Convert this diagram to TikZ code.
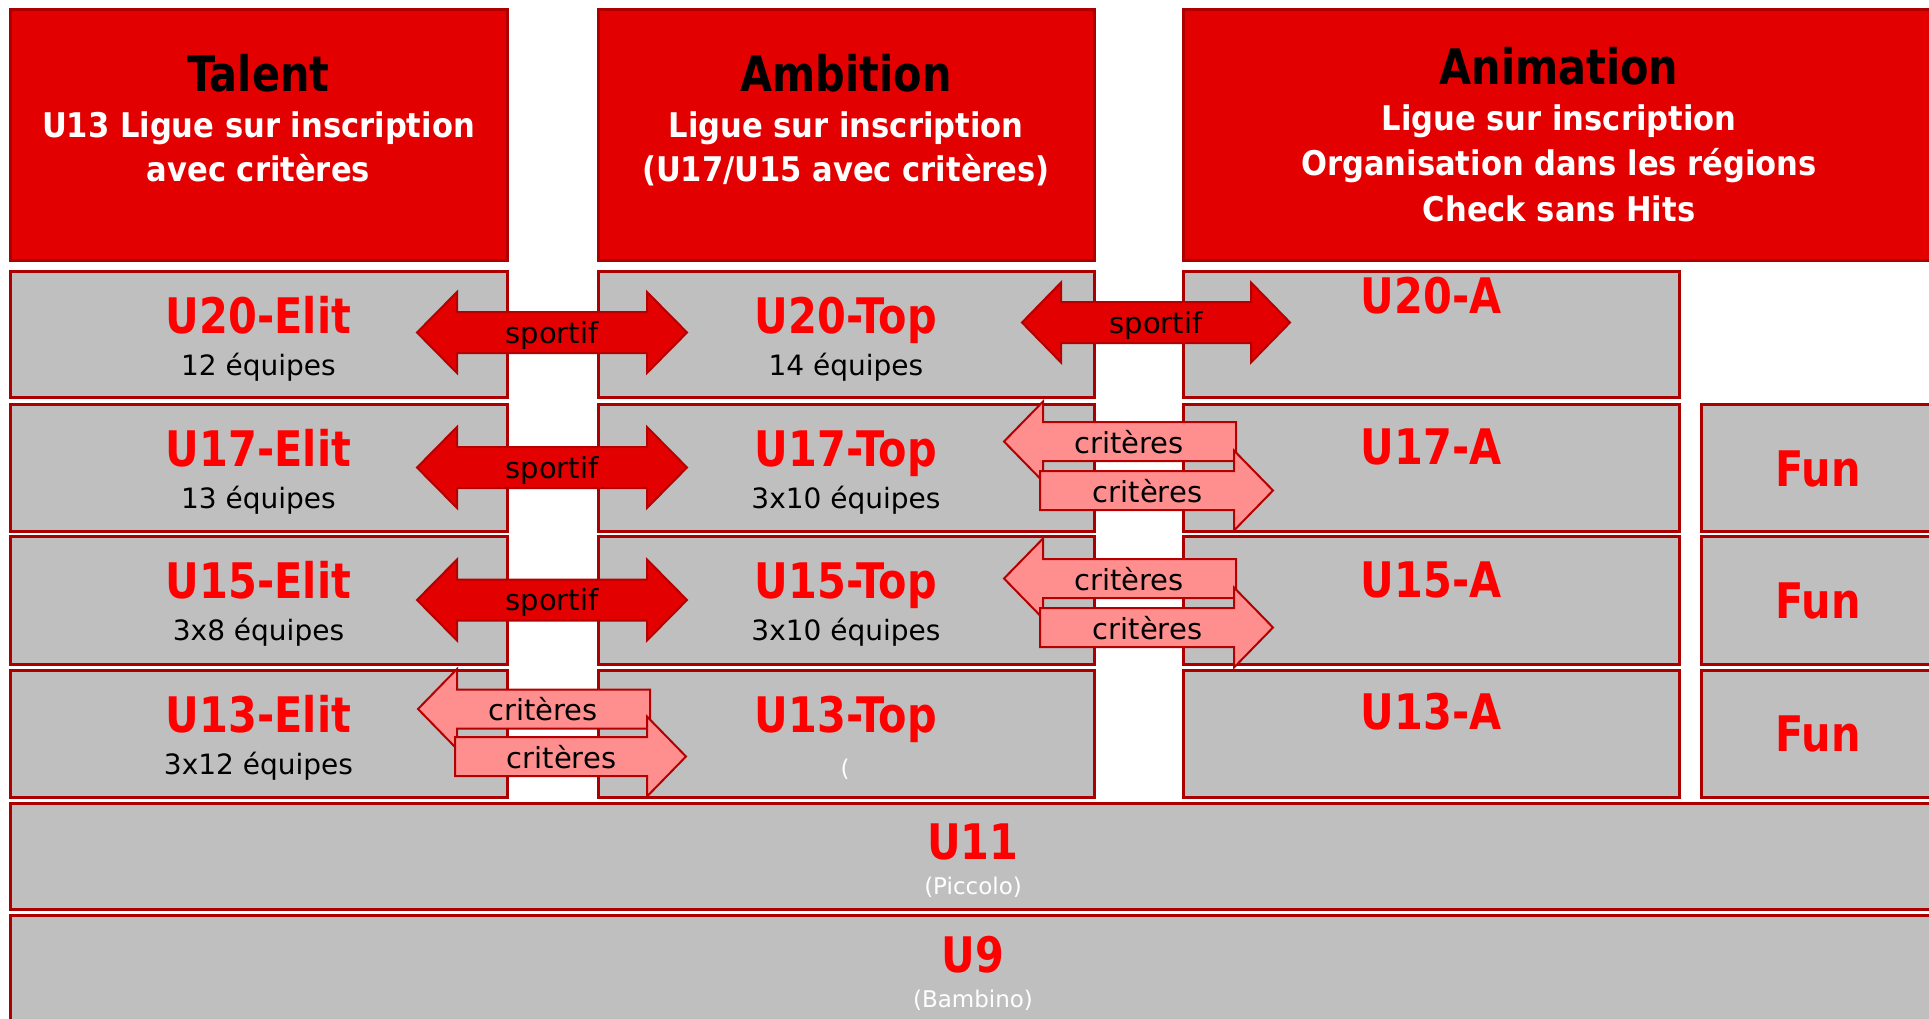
\documentclass[tikz,border=0pt]{standalone}
\usepackage{fontspec}
\setmainfont{DejaVu Sans}
\newfontfamily\cbold{DejaVu Sans Condensed Bold}
\newfontfamily\cboldt{DejaVu Sans Condensed Bold}[FakeStretch=0.94]
\definecolor{bord}{RGB}{172,0,0}
\definecolor{hdrred}{RGB}{226,0,0}
\definecolor{boxgray}{RGB}{191,191,191}
\definecolor{tred}{RGB}{255,0,0}
\definecolor{pinkfill}{RGB}{255,143,143}
\definecolor{arrbord}{RGB}{180,0,0}
\tikzset{
  hdrbox/.style={draw=bord, fill=hdrred, line width=3pt, anchor=north west, inner sep=0pt, outer sep=0pt},
  gbox/.style={draw=bord, fill=boxgray, line width=3pt, anchor=north west, inner sep=0pt, outer sep=0pt},
  hdrtitle/.style={font=\cboldt\fontsize{49}{52}\selectfont, text=black, anchor=base, inner sep=0pt},
  hdrsub/.style={font=\cbold\fontsize{34}{40}\selectfont, text=white, anchor=base, inner sep=0pt},
  ttl/.style={font=\cboldt\fontsize{49}{52}\selectfont, text=tred, anchor=base, inner sep=0pt},
  cnt/.style={font=\fontsize{28}{32}\selectfont, text=black, anchor=base, inner sep=0pt},
  arrlab/.style={font=\fontsize{29}{32}\selectfont, text=black, anchor=base, inner sep=0pt},
  smallw/.style={font=\fontsize{23}{26}\selectfont, text=white, inner sep=0pt},
  sportarrow/.style={draw=arrbord, fill=hdrred, line width=2pt, line join=miter},
  critarrow/.style={draw=arrbord, fill=pinkfill, line width=2pt, line join=miter}
}
\begin{document}
\begin{tikzpicture}[x=1pt,y=-1pt]
\useasboundingbox (0,0) rectangle (1929,1019);
\clip (0,0) rectangle (1929,1019);
% headers
\node[hdrbox, minimum width=497pt, minimum height=250pt] (h1) at (10,10) {};
\node[hdrbox, minimum width=496pt, minimum height=250pt] (h2) at (598,10) {};
\node[hdrbox, minimum width=753pt, minimum height=250pt] (h3) at (1183,10) {};
% rows col1
\node[gbox, minimum width=497pt, minimum height=126pt] (e20) at (10,271) {};
\node[gbox, minimum width=497pt, minimum height=127pt] (e17) at (10,404) {};
\node[gbox, minimum width=497pt, minimum height=128pt] (e15) at (10,536) {};
\node[gbox, minimum width=497pt, minimum height=127pt] (e13) at (10,670) {};
% col2
\node[gbox, minimum width=496pt, minimum height=126pt] (t20) at (598,271) {};
\node[gbox, minimum width=496pt, minimum height=127pt] (t17) at (598,404) {};
\node[gbox, minimum width=496pt, minimum height=128pt] (t15) at (598,536) {};
\node[gbox, minimum width=496pt, minimum height=127pt] (t13) at (598,670) {};
% col3
\node[gbox, minimum width=496pt, minimum height=126pt] (a20) at (1183,271) {};
\node[gbox, minimum width=496pt, minimum height=127pt] (a17) at (1183,404) {};
\node[gbox, minimum width=496pt, minimum height=128pt] (a15) at (1183,536) {};
\node[gbox, minimum width=496pt, minimum height=127pt] (a13) at (1183,670) {};
% col4
\node[gbox, minimum width=235pt, minimum height=127pt] (f17) at (1701,404) {};
\node[gbox, minimum width=235pt, minimum height=128pt] (f15) at (1701,536) {};
\node[gbox, minimum width=235pt, minimum height=127pt] (f13) at (1701,670) {};
% full rows
\node[gbox, minimum width=1926pt, minimum height=106pt] (u11) at (10,803) {};
\node[gbox, minimum width=1926pt, minimum height=110pt] (u9) at (10,915) {};

% header texts
\node[hdrtitle] (h1t) at (258.5,92) {Talent};
\node[hdrsub] (h1a) at (258.5,138) {U13 Ligue sur inscription};
\node[hdrsub] (h1b) at (258.5,182) {avec critères};
\node[hdrtitle] (h2t) at (846,92) {Ambition};
\node[hdrsub] (h2a) at (846,138) {Ligue sur inscription};
\node[hdrsub] (h2b) at (846,182) {(U17/U15 avec critères)};
\node[hdrtitle] (h3t) at (1559,85) {Animation};
\node[hdrsub] (h3a) at (1559,131) {Ligue sur inscription};
\node[hdrsub] (h3b) at (1559,176) {Organisation dans les régions};
\node[hdrsub] (h3c) at (1559,221) {Check sans Hits};

% col1 texts
\node[ttl] (e20t) at (258.5,333) {U20-Elit};
\node[cnt] (e20c) at (258.5,375) {12 équipes};
\node[ttl] (e17t) at (258.5,466) {U17-Elit};
\node[cnt] (e17c) at (258.5,508) {13 équipes};
\node[ttl] (e15t) at (258.5,598) {U15-Elit};
\node[cnt] (e15c) at (258.5,640) {3x8 équipes};
\node[ttl] (e13t) at (258.5,732) {U13-Elit};
\node[cnt] (e13c) at (258.5,774) {3x12 équipes};
% col2 texts
\node[ttl] (t20t) at (846,333) {U20-Top};
\node[cnt] (t20c) at (846,375) {14 équipes};
\node[ttl] (t17t) at (846,466) {U17-Top};
\node[cnt] (t17c) at (846,508) {3x10 équipes};
\node[ttl] (t15t) at (846,598) {U15-Top};
\node[cnt] (t15c) at (846,640) {3x10 équipes};
\node[ttl] (t13t) at (846,732) {U13-Top};
\node[smallw] (t13p) at (845,769) {(};
% col3 texts
\node[ttl] (a20t) at (1431,313) {U20-A};
\node[ttl] (a17t) at (1431,464) {U17-A};
\node[ttl] (a15t) at (1431,597) {U15-A};
\node[ttl] (a13t) at (1431,729) {U13-A};
% col4
\node[ttl] (f17t) at (1818,486) {Fun};
\node[ttl] (f15t) at (1818,618) {Fun};
\node[ttl] (f13t) at (1818,751) {Fun};
% bottom rows
\node[ttl] (u11t) at (973,859) {U11};
\node[smallw] (u11s) at (973,887) {(Piccolo)};
\node[ttl] (u9t) at (973,972) {U9};
\node[smallw] (u9s) at (973,1000) {(Bambino)};

% sportif double arrows
\foreach \cy/\nm in {332.5/s20, 467.5/s17, 600/s15}{
  \draw[sportarrow] (417,\cy) -- (457,\cy-40.5) -- (457,\cy-20.5) -- (647,\cy-20.5) -- (647,\cy-40.5)
     -- (687,\cy) -- (647,\cy+40.5) -- (647,\cy+20.5) -- (457,\cy+20.5) -- (457,\cy+40.5) -- cycle;
  \node[arrlab] (\nm) at (552,\cy+10.5) {sportif};
}
\draw[sportarrow] (1022,322.5) -- (1061,282.5) -- (1061,302) -- (1251,302) -- (1251,282.5)
   -- (1290,322.5) -- (1251,362.5) -- (1251,343) -- (1061,343) -- (1061,362.5) -- cycle;
\node[arrlab] (s20r) at (1156,333) {sportif};

% criteres arrow pairs
% U17 and U15 (col2 <-> col3)
\foreach \cy/\nm in {441.5/c17, 578.5/c15}{
  \draw[critarrow] (1004,\cy) -- (1043,\cy-40) -- (1043,\cy-19.5) -- (1236,\cy-19.5) -- (1236,\cy+19.5)
     -- (1043,\cy+19.5) -- (1043,\cy+40) -- cycle;
  \node[arrlab] (\nm u) at (1129,\cy+11.5) {critères};
  \draw[critarrow] (1040,\cy+29.5) -- (1234,\cy+29.5) -- (1234,\cy+9) -- (1273,\cy+49) -- (1234,\cy+89)
     -- (1234,\cy+68.5) -- (1040,\cy+68.5) -- cycle;
  \node[arrlab] (\nm l) at (1147.5,\cy+60.5) {critères};
}
% U13 (col1 <-> col2)
\draw[critarrow] (418,709) -- (457,669) -- (457,689.5) -- (650,689.5) -- (650,728.5)
   -- (457,728.5) -- (457,749) -- cycle;
\node[arrlab] (c13u) at (543,720.5) {critères};
\draw[critarrow] (455,737) -- (647,737) -- (647,716.5) -- (686,756.5) -- (647,796.5)
   -- (647,776) -- (455,776) -- cycle;
\node[arrlab] (c13l) at (561.5,768) {critères};
\end{tikzpicture}
\end{document}
